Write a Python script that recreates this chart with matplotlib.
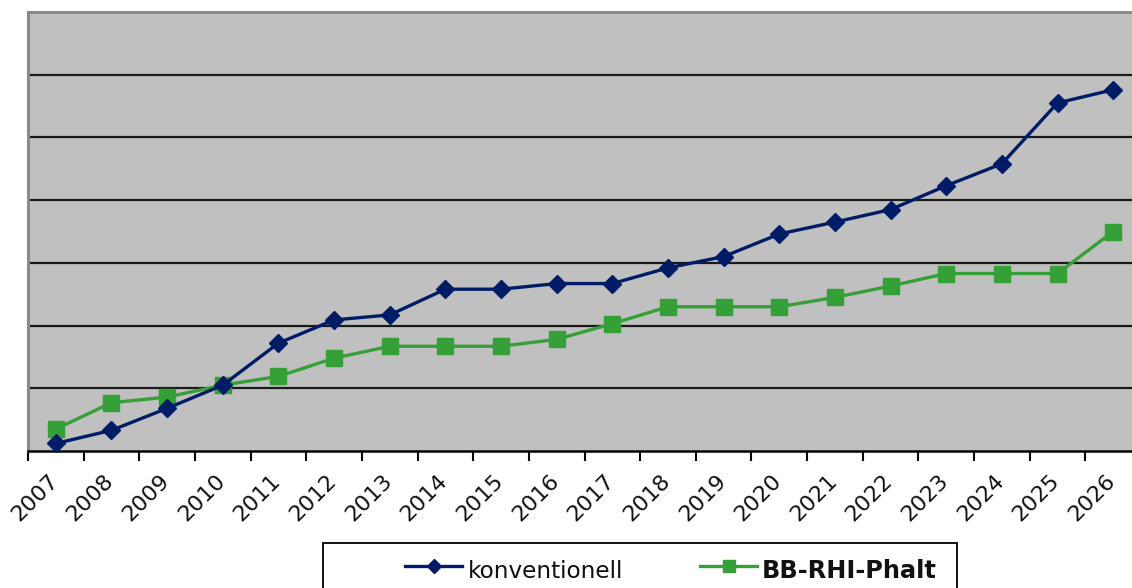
import matplotlib
matplotlib.use("Agg")
import matplotlib.pyplot as plt
from matplotlib.patches import Rectangle
from matplotlib.lines import Line2D
from matplotlib.transforms import ScaledTranslation
import numpy as np

years = [str(y) for y in range(2007, 2027)]
konventionell = [0.12, 0.33, 0.68, 1.05, 1.72, 2.09, 2.17, 2.58, 2.58, 2.67,
                 2.67, 2.92, 3.10, 3.46, 3.65, 3.85, 4.23, 4.58, 5.55, 5.76]
bb_rhi_phalt = [0.35, 0.77, 0.86, 1.05, 1.19, 1.48, 1.67, 1.67, 1.67, 1.78,
                2.03, 2.30, 2.30, 2.30, 2.45, 2.63, 2.83, 2.83, 2.83, 3.50]
series_names = ['konventionell', 'BB-RHI-Phalt']

W, H = 1132, 588
plt.rcParams['font.family'] = ['DejaVu Sans']
fig = plt.figure(figsize=(W / 100, H / 100), dpi=100)


def fx(px):
    return px / W


def fy(py):
    return 1 - py / H


ax = fig.add_axes([fx(28), fy(451), (1141 - 28) / W, (451 - 12) / H])
ax.set_facecolor('#c0c0c0')
x = np.arange(len(years))
ax.set_xlim(-0.5, len(years) - 0.5)
ax.set_ylim(0, 7)

for g in range(1, 7):
    ax.axhline(g, color='#1a1a1a', lw=1.6, zorder=1)

blue = '#001c66'
green = '#36a038'
ax.plot(x, konventionell, color=blue, lw=2.4, marker='D', ms=9.5,
        mec=blue, mfc=blue, zorder=3, clip_on=False)
ax.plot(x, bb_rhi_phalt, color=green, lw=2.4, marker='s', ms=11,
        mec=green, mfc=green, zorder=2, clip_on=False)

ax.set_yticks([])
ax.set_xticks(x)
ax.set_xticklabels(years, rotation=45, ha='right', va='top',
                   rotation_mode='anchor', fontsize=16, color='#111111')
ax.tick_params(axis='x', which='major', length=0, pad=14)
shift = ScaledTranslation(-8 / 100, 0, fig.dpi_scale_trans)
for lbl in ax.get_xticklabels():
    lbl.set_transform(lbl.get_transform() + shift)
ax.set_xticks(np.arange(-0.5, len(years)), minor=True)
ax.tick_params(axis='x', which='minor', length=7, width=1.5, color='black',
               direction='out')

ax.spines['bottom'].set_color('black')
ax.spines['bottom'].set_linewidth(1.8)
for s in ['left', 'top', 'right']:
    ax.spines[s].set_color('#8a8a8a')
    ax.spines[s].set_linewidth(2.2)

# legend box
rect = Rectangle((fx(323), -0.05), (957 - 323) / W, 0.05 + fy(543),
                 transform=fig.transFigure, fill=False, edgecolor='black',
                 lw=1.3, clip_on=False)
fig.patches.append(rect)

ly = fy(566)
fig.add_artist(Line2D([fx(405), fx(462)], [ly, ly], color=blue, lw=2.4,
                      transform=fig.transFigure))
fig.add_artist(Line2D([fx(433.5)], [ly], color=blue, marker='D', ms=7,
                      mfc=blue, mec=blue, transform=fig.transFigure))
fig.text(fx(468), fy(578), series_names[0], fontsize=16.7, ha='left',
         va='baseline', color='#111111')
fig.add_artist(Line2D([fx(700), fx(757)], [ly, ly], color=green, lw=2.4,
                      transform=fig.transFigure))
fig.add_artist(Line2D([fx(728.5)], [ly], color=green, marker='s', ms=8,
                      mfc=green, mec=green, transform=fig.transFigure))
fig.text(fx(762), fy(578), series_names[1], fontsize=17.3, ha='left',
         va='baseline', color='#111111', fontweight='bold')

fig.savefig('out.png', dpi=100)
